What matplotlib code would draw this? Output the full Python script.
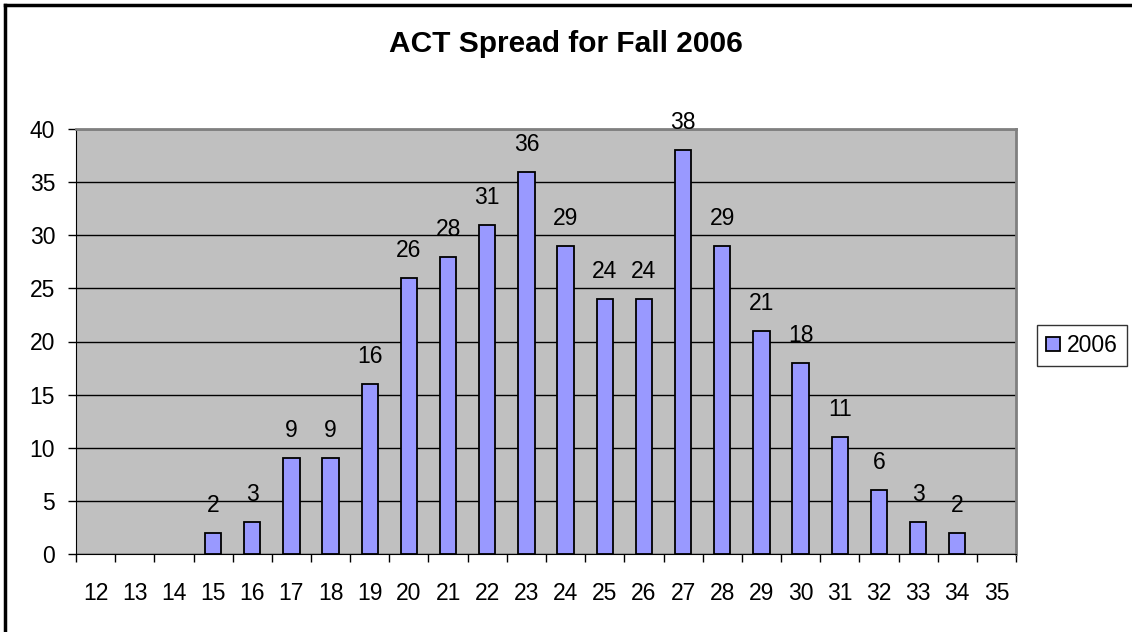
import matplotlib.pyplot as plt
import matplotlib.patches as mpatches
from matplotlib.lines import Line2D

plt.rcParams['font.family'] = ['Liberation Sans', 'DejaVu Sans']

scores = ["12", "13", "14", "15", "16", "17", "18", "19", "20", "21", "22", "23",
          "24", "25", "26", "27", "28", "29", "30", "31", "32", "33", "34", "35"]
counts_2006 = [0, 0, 0, 2, 3, 9, 9, 16, 26, 28, 31, 36,
               29, 24, 24, 38, 29, 21, 18, 11, 6, 3, 2, 0]

W, H = 1132, 632
FS = 16.5
BAR_COLOR = "#9999FF"
fig = plt.figure(figsize=(W / 100, H / 100), dpi=100)
ax = fig.add_axes([76 / W, 1 - 554 / H, (1016 - 76) / W, (554 - 129) / H])
ax.set_facecolor("#C0C0C0")

x = list(range(len(scores)))
bars = ax.bar(x, counts_2006, width=0.42, color=BAR_COLOR, edgecolor="black",
              linewidth=1.3, zorder=3)
# Excel doesn't draw an outline for empty bars
for b, v in zip(bars, counts_2006):
    if v == 0:
        b.set_visible(False)
for xi, v in zip(x, counts_2006):
    if v > 0:
        ax.text(xi, v + 1.5, str(v), ha="center", va="bottom", fontsize=FS, zorder=4)

ax.set_xlim(-0.5, len(scores) - 0.5)
ax.set_ylim(0, 40)
ax.set_yticks(range(0, 41, 5))
ax.yaxis.grid(True, color="black", linewidth=1)
ax.set_axisbelow(True)

ax.set_xticks(x)
ax.set_xticklabels(scores, fontsize=FS)
ax.set_xticks([i - 0.5 for i in range(len(scores) + 1)], minor=True)
ax.tick_params(axis="x", which="major", length=0, pad=20)
ax.tick_params(axis="x", which="minor", length=6, width=1, color="black", direction="out")
ax.tick_params(axis="y", labelsize=FS, length=6, width=1, pad=9)

for side in ["top", "right"]:
    ax.spines[side].set_color("#808080")
    ax.spines[side].set_linewidth(2)
ax.spines["left"].set_color("black")
ax.spines["bottom"].set_color("black")

fig.text(0.5, 1 - 44 / H, "ACT Spread for Fall 2006", ha="center", va="center",
         fontsize=21.5, fontweight="bold")

handle = mpatches.Patch(facecolor=BAR_COLOR, edgecolor="black", linewidth=1.3, label="2006")
leg = ax.legend(handles=[handle], loc="center left",
                bbox_to_anchor=((1037 - 76) / (1016 - 76), 0.49),
                fontsize=FS, frameon=True, fancybox=False, edgecolor="black",
                handlelength=0.6, handleheight=0.6, handletextpad=0.3, borderpad=0.4,
                borderaxespad=0)
leg.get_frame().set_linewidth(1)

# chart-area frame (only top and left edges fall inside the image)
fig.add_artist(Line2D([5 / W, 5 / W], [0, 1 - 5 / H], color="black", linewidth=2.5,
                      transform=fig.transFigure))
fig.add_artist(Line2D([5 / W, 1], [1 - 5 / H, 1 - 5 / H], color="black", linewidth=2.5,
                      transform=fig.transFigure))

fig.savefig("out.png", dpi=100, facecolor="white")
